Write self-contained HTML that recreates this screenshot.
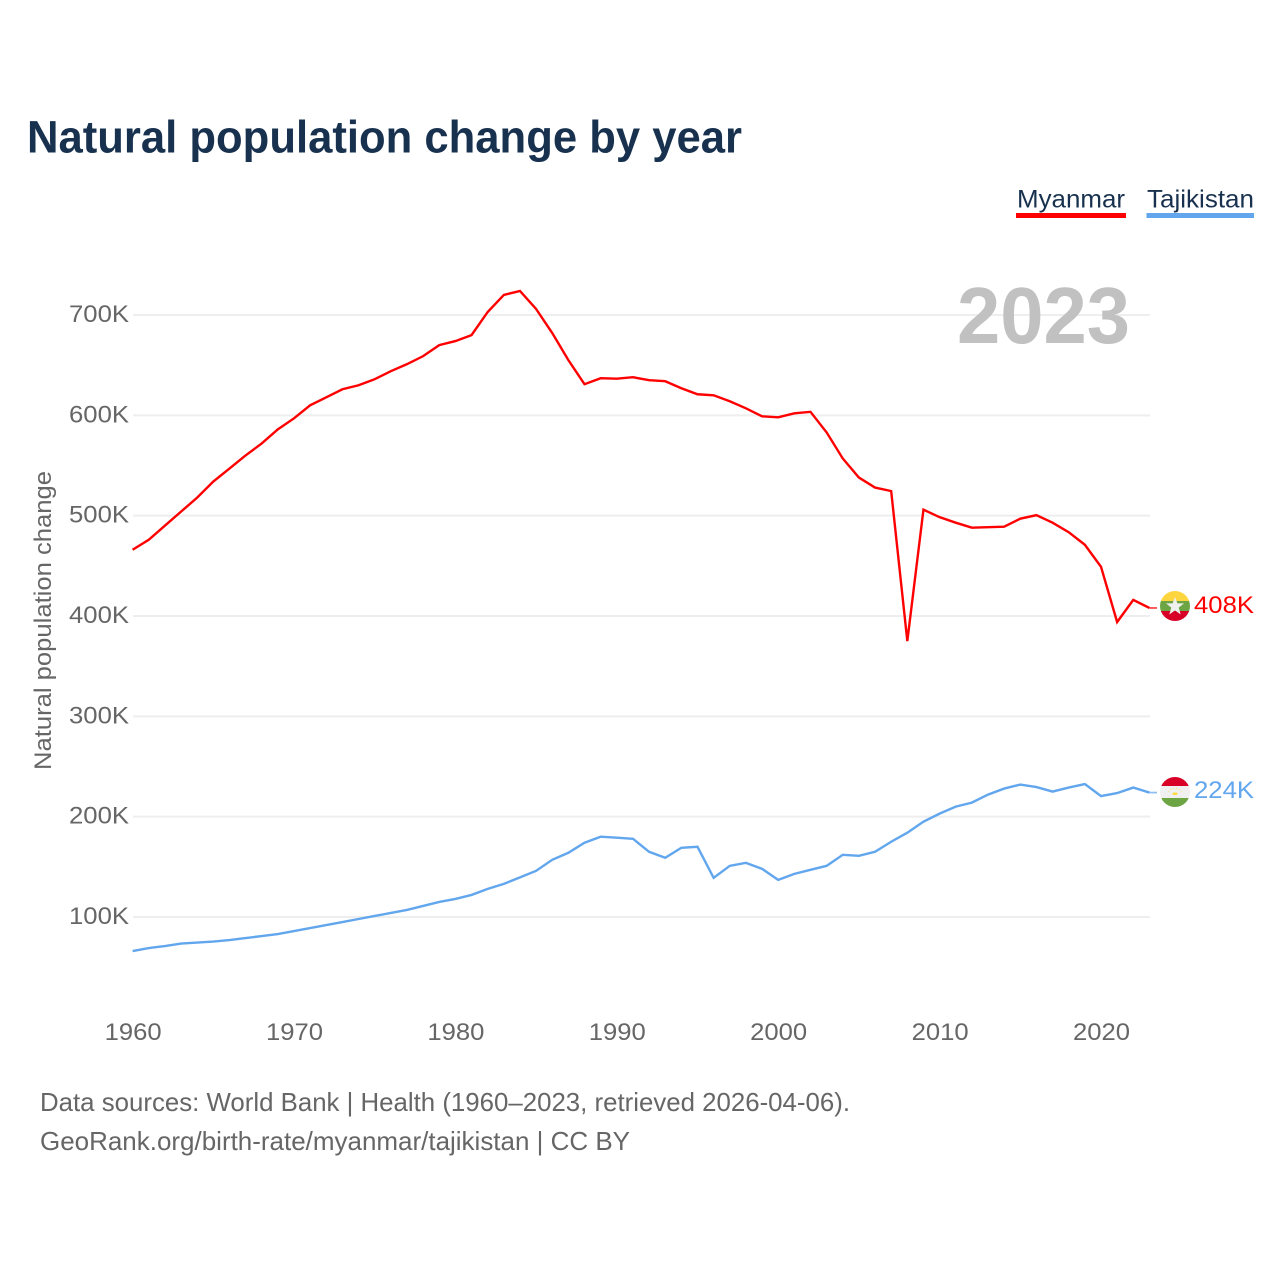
<!DOCTYPE html>
<html lang="en">
<head>
<meta charset="utf-8">
<title>Natural population change by year</title>
<style>
html,body{margin:0;padding:0;background:#fff;width:1280px;height:1280px;overflow:hidden}
svg{display:block}
text{font-family:"Liberation Sans",sans-serif}
</style>
</head>
<body>
<svg id="chart" xmlns="http://www.w3.org/2000/svg" width="1280" height="1280" viewBox="0 0 1280 1280">
  <defs>
    <clipPath id="flag-clip-mm"><circle cx="1175" cy="606" r="15"/></clipPath>
    <clipPath id="flag-clip-tj"><circle cx="1175" cy="792" r="15"/></clipPath>
  </defs>
  <rect width="1280" height="1280" fill="#fff"/>
  <text x="27" y="152.5" font-size="45" font-weight="700" fill="#17314f" textLength="715" lengthAdjust="spacingAndGlyphs">Natural population change by year</text>

  <g>
    <text x="1017" y="207.5" font-size="25" fill="#17314f" textLength="108" lengthAdjust="spacingAndGlyphs">Myanmar</text>
    <rect x="1016" y="213" width="110" height="5" fill="#ff0000"/>
  </g>
  <g>
    <text x="1147" y="207.5" font-size="25" fill="#17314f" textLength="107" lengthAdjust="spacingAndGlyphs">Tajikistan</text>
    <rect x="1146.5" y="213" width="107.5" height="5" fill="#62a6ee"/>
  </g>

  <g id="grid"></g>
  <g id="y-axis"></g>
  <g id="x-axis"></g>

  <text x="957" y="343" font-size="80" font-weight="700" fill="#c1c1c1" textLength="173" lengthAdjust="spacingAndGlyphs">2023</text>
  <text transform="translate(51 770) rotate(-90)" font-size="24" fill="#666" textLength="299" lengthAdjust="spacingAndGlyphs">Natural population change</text>

  <g id="series"></g>

  <g clip-path="url(#flag-clip-mm)">
    <rect x="1160" y="591" width="30" height="10" fill="#fcd53f"/>
    <rect x="1160" y="601" width="30" height="10" fill="#6da544"/>
    <rect x="1160" y="611" width="30" height="10" fill="#d80027"/>
    <polygon points="1175,597 1177.4,603.4 1184,603.4 1178.7,607.6 1180.7,614.5 1175,610.4 1169.3,614.5 1171.3,607.6 1166,603.4 1172.6,603.4" fill="#f0f0f0"/>
  </g>
  <g clip-path="url(#flag-clip-tj)">
    <rect x="1160" y="777" width="30" height="9" fill="#d80027"/>
    <rect x="1160" y="786" width="30" height="12" fill="#f0f0f0"/>
    <rect x="1160" y="798" width="30" height="11" fill="#6da544"/>
    <rect x="1172.5" y="792.5" width="5" height="2.5" rx="1" fill="#ffda44"/>
    <path d="M1168.5 792 A7 6 0 0 1 1181.5 792" fill="none" stroke="#ffda44" stroke-width="1" stroke-dasharray="1 2" opacity="0.8"/>
  </g>
  <text id="label-mm" x="1194" y="613" font-size="24" fill="#ff0000" textLength="60" lengthAdjust="spacingAndGlyphs">408K</text>
  <text id="label-tj" x="1194" y="798" font-size="24" fill="#62a6ee" textLength="60" lengthAdjust="spacingAndGlyphs">224K</text>

  <text x="40" y="1111" font-size="26" fill="#666" textLength="810" lengthAdjust="spacingAndGlyphs">Data sources: World Bank | Health (1960–2023, retrieved 2026-04-06).</text>
  <text x="40" y="1150" font-size="26" fill="#666" textLength="590" lengthAdjust="spacingAndGlyphs">GeoRank.org/birth-rate/myanmar/tajikistan | CC BY</text>
</svg>
<script>
const startYear = 1960;
const xTickYears = [1960, 1970, 1980, 1990, 2000, 2010, 2020];
const yTickValues = [100, 200, 300, 400, 500, 600, 700];
const yTickLabels = ["100K", "200K", "300K", "400K", "500K", "600K", "700K"];
const myanmarValues = [466, 476, 490, 504, 518, 534, 547, 560, 572, 586, 597, 610, 618, 626, 630, 636, 644, 651, 659, 670, 674, 680, 703, 720, 724, 706, 682, 655, 631, 637, 636.5, 638, 635, 634, 627, 621, 620, 614, 607, 599, 598, 602, 603.5, 583, 557, 538, 528, 524.5, 375, 506, 498.5, 493, 488, 488.5, 489, 497, 500.5, 493, 483.5, 471, 449, 394, 416, 408];
const tajikistanValues = [66, 69, 71, 73.5, 74.5, 75.5, 77, 79, 81, 83, 86, 89, 92, 95, 98, 101, 104, 107, 111, 115, 118, 122, 128, 133, 139.5, 146, 157, 164, 174, 180, 179, 178, 165, 159, 169, 170, 139, 151, 154, 148, 137, 143, 147, 151, 162, 161, 165, 175, 184, 195, 203, 210, 214, 222, 228, 232, 229.5, 225, 229, 232.5, 220.5, 223.5, 229, 224];

const NS = "http://www.w3.org/2000/svg";
function xScale(year) { return 132.6 + (year - 1960) * 16.14; }
function yScale(value) { return 1017.33 - value * 1.00333; }

const gridGroup = document.getElementById("grid");
const yAxisGroup = document.getElementById("y-axis");
const xAxisGroup = document.getElementById("x-axis");
const seriesGroup = document.getElementById("series");

yTickValues.forEach(function (value, i) {
  const line = document.createElementNS(NS, "line");
  
  
  line.setAttribute("x1", 133);
  line.setAttribute("x2", 1150);
  line.setAttribute("y1", yScale(value));
  line.setAttribute("y2", yScale(value));
  line.setAttribute("stroke", "#eeeeee");
  line.setAttribute("stroke-width", "2");
  gridGroup.appendChild(line);

  const label = document.createElementNS(NS, "text");
  
  
  label.setAttribute("x", 69);
  label.setAttribute("y", yScale(value) + 7);
  label.setAttribute("font-size", "24");
  label.setAttribute("fill", "#666");
  label.setAttribute("textLength", "60");
  label.setAttribute("lengthAdjust", "spacingAndGlyphs");
  label.textContent = yTickLabels[i];
  yAxisGroup.appendChild(label);
});

xTickYears.forEach(function (year) {
  const label = document.createElementNS(NS, "text");
  
  
  label.setAttribute("x", xScale(year) - 28);
  label.setAttribute("y", 1040);
  label.setAttribute("font-size", "24");
  label.setAttribute("fill", "#666");
  label.setAttribute("textLength", "57");
  label.setAttribute("lengthAdjust", "spacingAndGlyphs");
  label.textContent = String(year);
  xAxisGroup.appendChild(label);
});

function drawSeries(values, color, lineName, stubName) {
  const points = values.map(function (v, i) {
    return xScale(startYear + i).toFixed(2) + "," + yScale(v).toFixed(2);
  }).join(" ");
  const line = document.createElementNS(NS, "polyline");
  
  
  line.setAttribute("points", points);
  line.setAttribute("fill", "none");
  line.setAttribute("stroke", color);
  line.setAttribute("stroke-width", "2.4");
  line.setAttribute("stroke-linejoin", "miter");
  seriesGroup.appendChild(line);

  const lastY = yScale(values[values.length - 1]);
  const stub = document.createElementNS(NS, "line");
  
  
  stub.setAttribute("x1", xScale(startYear + values.length - 1));
  stub.setAttribute("x2", 1157);
  stub.setAttribute("y1", lastY);
  stub.setAttribute("y2", lastY);
  stub.setAttribute("stroke", color);
  stub.setAttribute("stroke-width", "1.8");
  stub.setAttribute("opacity", "0.7");
  seriesGroup.appendChild(stub);
}

drawSeries(myanmarValues, "#ff0000", "series-line-myanmar", "end-connector-myanmar");
drawSeries(tajikistanValues, "#62a6ee", "series-line-tajikistan", "end-connector-tajikistan");
</script>
</body>
</html>
